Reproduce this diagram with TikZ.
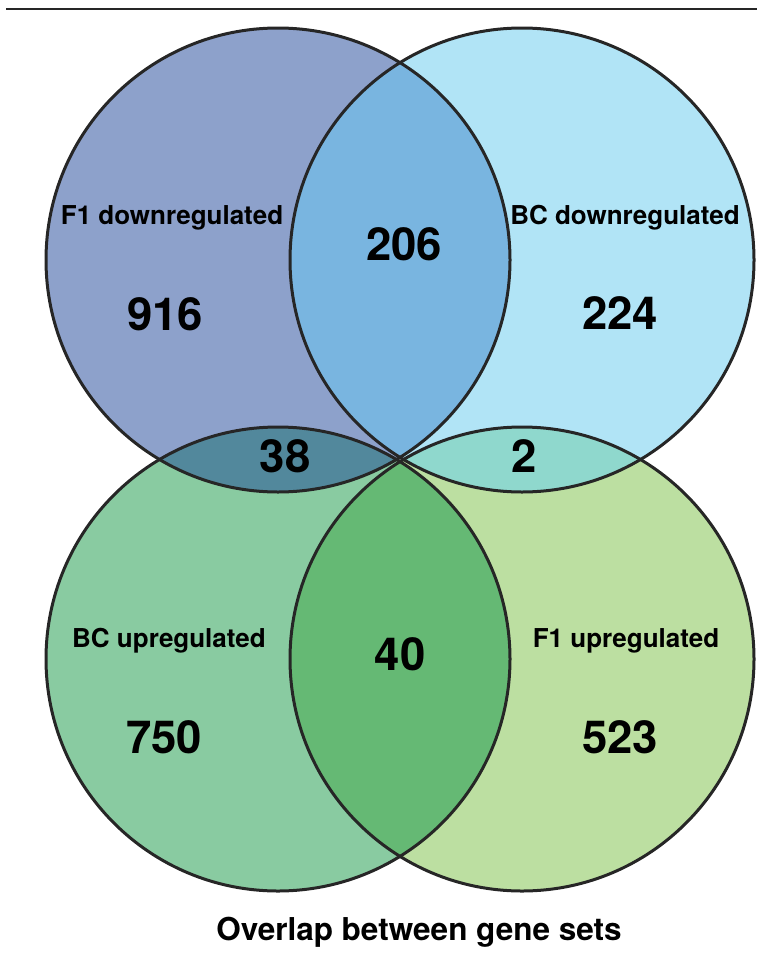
\documentclass[tikz,border=0pt]{standalone}
\usepackage{fontspec}
\setmainfont{TeX Gyre Heros}
\usepackage{xcolor}
\usetikzlibrary{calc}

\definecolor{fdown}{RGB}{141,161,203}
\definecolor{bcdown}{RGB}{177,228,246}
\definecolor{bothdown}{RGB}{121,181,224}
\definecolor{bcup}{RGB}{137,203,161}
\definecolor{fup}{RGB}{188,223,161}
\definecolor{bothup}{RGB}{101,185,116}
\definecolor{lensleft}{RGB}{82,136,156}
\definecolor{lensright}{RGB}{143,216,205}

\tikzset{
  ring/.style={draw=black!85, line width=3pt},
  setlabel/.style={anchor=base, font=\fontsize{26}{30}\selectfont\bfseries},
  count/.style={anchor=base, font=\fontsize{45.5}{50}\selectfont\bfseries}
}

\begin{document}
\begin{tikzpicture}[x=1pt, y=-1pt]
	\useasboundingbox (0,0) rectangle (757,961);

	    % Rule on top
		\coordinate (ruleL) at (6,8.5);
		\coordinate (ruleR) at (757,8.5);
		\draw[line width=2pt, black!85] (ruleL) -- (ruleR);

	    % Set fills
		\fill[fdown] (278,260) circle (232);
		\fill[bcdown] (522,260) circle (232);
		\fill[bcup] (278,659) circle (232);
		\fill[fup] (522,659) circle (232);

	    % Overlaps
		\begin{scope}
			\clip (278,260) circle (232);
			\fill[bothdown] (522,260) circle (232);
			\fill[lensleft] (278,659) circle (232);
		\end{scope}
		\begin{scope}
			\clip (522,260) circle (232);
			\fill[lensright] (522,659) circle (232);
		\end{scope}
		\begin{scope}
			\clip (278,659) circle (232);
			\fill[bothup] (522,659) circle (232);
		\end{scope}

	    % Outlines
		\draw[ring] (278,260) circle (232);
		\draw[ring] (522,260) circle (232);
		\draw[ring] (278,659) circle (232);
		\draw[ring] (522,659) circle (232);

	    % Set names
		\node[setlabel] (fdownname) at (172,224) {F1 downregulated};
		\node[setlabel] (bcdownname) at (625,224) {BC downregulated};
		\node[setlabel] (bcupname) at (169,647) {BC upregulated};
		\node[setlabel] (fupname) at (626,647) {F1 upregulated};

	    % Counts
		\node[count] (nfdown) at (165,330) {916};
		\node[count] (nbothdown) at (404,260) {206};
		\node[count] (nbcdown) at (620,329) {224};
		\node[count] (nleft) at (285,472) {38};
		\node[count] (nright) at (524,472) {2};
		\node[count] (nbothup) at (400,670) {40};
		\node[count] (nbcup) at (164,753) {750};
		\node[count] (nfup) at (620,753) {523};

		\node[anchor=base, font=\fontsize{31.5}{35}\selectfont\bfseries] (title) at (419,940) {Overlap between gene sets};

\end{tikzpicture}
\end{document}
